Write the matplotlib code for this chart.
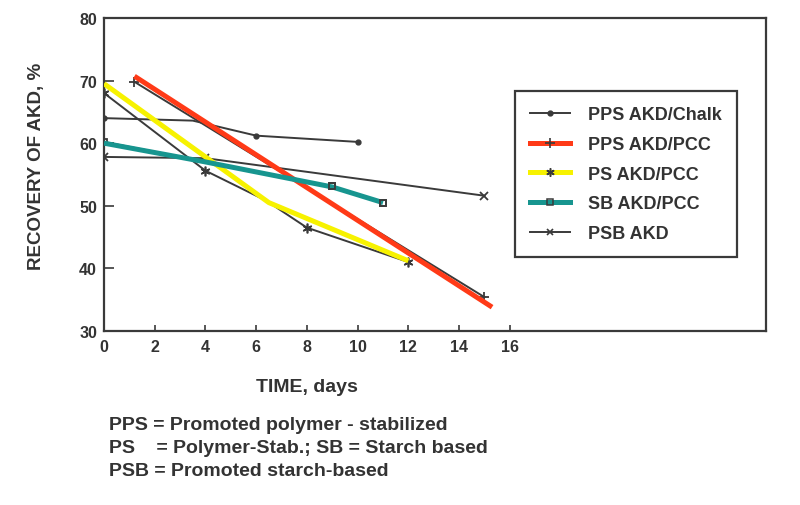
import matplotlib.pyplot as plt
from matplotlib.lines import Line2D

plt.rcParams['font.family'] = ['Liberation Sans', 'DejaVu Sans']

# scanned black curves (time in days, recovery of AKD in %)
chalk_days = [0, 3.5, 6, 7.2, 10]
chalk_rec = [64, 63.6, 61.2, 60.9, 60.2]
pcc_days = [1.2, 15]
pcc_rec = [69.8, 35.4]
ps_days = [0, 4, 6.4, 8, 12]
ps_rec = [68, 55.6, 50.8, 46.5, 41]
sb_days = [0, 9, 11]
sb_rec = [60.2, 53.1, 50.4]
psb_days = [0, 4, 15]
psb_rec = [57.8, 57.6, 51.6]

# coloured highlight lines drawn over the scan
red_days = [1.2, 15.3]
red_rec = [70.7, 33.8]
yellow_days = [0, 6.5, 12]
yellow_rec = [69.5, 50.5, 41.2]
teal_days = [0, 4, 9, 11]
teal_rec = [60, 57, 53, 50.5]

labels = ["PPS AKD/Chalk", "PPS AKD/PCC", "PS AKD/PCC", "SB AKD/PCC", "PSB AKD"]
notes = ["PPS = Promoted polymer - stabilized",
         "PS    = Polymer-Stab.; SB = Starch based",
         "PSB = Promoted starch-based"]

RED = "#ff3a17"
YELLOW = "#f7f200"
TEAL = "#17958f"
INK = "#3a3a3a"
asterisk = (6, 2, 0)

fig = plt.figure(figsize=(8, 5.06), dpi=100)
ax = fig.add_axes([0.13, 0.344, 0.8275, 0.6185])

# black lines from the scan
ax.plot(chalk_days, chalk_rec, color=INK, lw=1.4, marker="o", ms=3.5,
        markevery=[0, 2, 4], zorder=2)
ax.plot(pcc_days, pcc_rec, color=INK, lw=1.4, marker="+", ms=7, mew=1.3, zorder=2)
ax.plot(ps_days, ps_rec, color=INK, lw=1.4, marker=asterisk, ms=7, mew=1.2,
        markevery=[0, 1, 3, 4], zorder=2)
ax.plot(sb_days, sb_rec, color=INK, lw=1.4, marker="s", ms=5, mfc="white",
        mec=INK, mew=1.3, zorder=2)
ax.plot(psb_days, psb_rec, color=INK, lw=1.4, marker="x", ms=6, mew=1.3, zorder=2)

# coloured overlays
ax.plot(red_days, red_rec, color=RED, lw=3.6, solid_capstyle="butt", zorder=3)
ax.plot(yellow_days, yellow_rec, color=YELLOW, lw=3.6, solid_capstyle="butt", zorder=3)
ax.plot(teal_days, teal_rec, color=TEAL, lw=3.6, solid_capstyle="butt", zorder=3)
ax.plot(sb_days[1:], sb_rec[1:], ls="none", marker="s", ms=5, mfc="none",
        mec=INK, mew=1.3, zorder=4)

ax.set_xlim(0, 26.1)
ax.set_ylim(30, 80)
ax.set_xticks(range(0, 17, 2))
ax.set_yticks(range(30, 81, 10))
ax.tick_params(axis="both", direction="in", colors=INK, labelcolor="#333333",
               labelsize=11.5)
ax.tick_params(axis="y", length=7, width=1.2, pad=5)
ax.tick_params(axis="x", length=4, width=1.2, pad=6)
for lab in ax.get_xticklabels() + ax.get_yticklabels():
    lab.set_fontweight("bold")
for sp in ax.spines.values():
    sp.set_linewidth(1.6)
    sp.set_color(INK)

ax.set_ylabel("RECOVERY OF AKD, %", fontsize=13.5, fontweight="bold",
              color="#333333")
ax.yaxis.set_label_coords(-0.089, 0.53)
fig.text(307 / 800, 1 - 387 / 506, "TIME, days", ha="center", va="center",
         fontsize=14, fontweight="bold", color="#333333")
for i, line in enumerate(notes):
    fig.text(109 / 800, 1 - (425 + 23.5 * i) / 506, line, ha="left", va="center",
             fontsize=14, fontweight="bold", color="#333333")

handles = [
    Line2D([], [], color=INK, lw=1.4, marker="o", ms=3.5),
    Line2D([], [], color=RED, lw=3.6, marker="+", ms=7, mec=INK, mew=1.2),
    Line2D([], [], color=YELLOW, lw=3.6, marker=asterisk, ms=6, mec=INK, mew=1.1),
    Line2D([], [], color=TEAL, lw=3.6, marker="s", ms=4.5, mfc="none", mec=INK, mew=1.1),
    Line2D([], [], color=INK, lw=1.4, marker="x", ms=5, mew=1.2),
]
leg = ax.legend(handles, labels, loc="upper left",
                bbox_to_anchor=(515 / 800, 1 - 92 / 506),
                bbox_transform=fig.transFigure, borderaxespad=0,
                frameon=True, fancybox=False, shadow=False, framealpha=1,
                handlelength=2.2, handletextpad=1.0, labelspacing=0.7,
                borderpad=0.85, prop={"size": 13, "weight": "bold"})
leg.get_frame().set_edgecolor(INK)
leg.get_frame().set_linewidth(1.6)
for t in leg.get_texts():
    t.set_color("#333333")

fig.savefig("out.png", dpi=100)
